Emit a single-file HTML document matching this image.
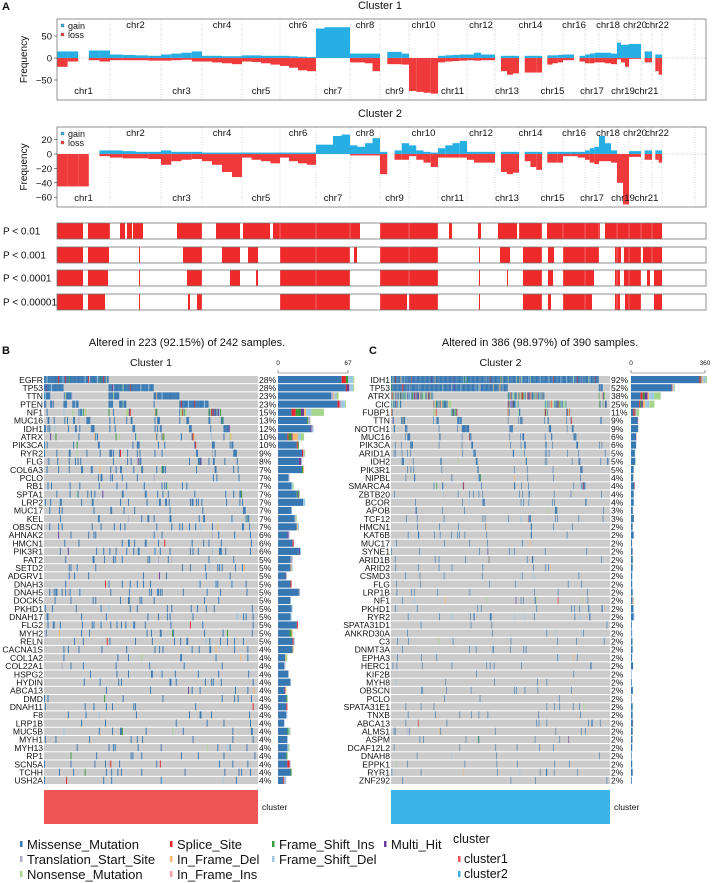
<!DOCTYPE html>
<html><head><meta charset="utf-8">
<style>
html,body{margin:0;padding:0;background:#fff;}
svg{display:block;font-family:"Liberation Sans",Arial,sans-serif;}
</style></head>
<body>
<svg id="fig" width="712" height="883" viewBox="0 0 712 883" xmlns="http://www.w3.org/2000/svg"></svg>
<script>
// ---------------- DATA ----------------
const chrNames = ["chr1","chr2","chr3","chr4","chr5","chr6","chr7","chr8","chr9","chr10","chr11","chr12","chr13","chr14","chr15","chr16","chr17","chr18","chr19","chr20","chr21","chr22"];
const chrBounds = [0,53,104,145,185,223,259,293,323,352,381,410,438,462,485,506,528,542,560,572,584,595,605];
const c1Gain = [[15,15,0,17,17],[8,7,6,5],[8,10,12,15],[5,5,4,4],[6,6,5,5],[5,4,3,2],[67,70,70,70],[10,10,10,10],[0,14,14,10],[0,0,0,0],[5,6,7,8],[8,12,8,8],[0,5,5,5],[0,5,5,5],[0,6,6,7],[8,8,0,5],[8,10,12],[12,12,10],[35,30,30],[32,32],[0,15,15],[0,8,8]];
const c1Loss = [[-20,-8,0,-5,-8],[-5,-5,-5,-6],[-6,-5,-4,-8],[-8,-10,-12,-14],[-8,-9,-12,-15],[-18,-22,-28,-30],[0,0,0,0],[-10,-10,-12,-30,-62],[0,-14,-14,-15],[-75,-77,-79,-81],[-10,-8,-7,-6],[-5,-6,-5,-5],[0,-30,-38,-35],[0,-33,-33,-33],[0,-15,-12,-10],[-5,-5,0,-8],[-12,-12,-10],[-10,-12,-14],[-3,-10,-20],[-2,-2],[0,-10,-10],[0,-30,-38]];
const c2Gain = [[0,0,0,0,5],[5,4,3,3],[5,3,3,3],[2,2,2,2],[2,2,2,2],[2,2,2,2],[13,13,25,27],[12,10,15,22],[3,0,5,15],[12,5,3,2],[8,12,15,18],[3,3,3,3],[0,3,3,3],[0,3,3,3],[0,3,3,3],[3,3,3],[5,8,10],[25,15,5],[0,0],[4,4],[0,5,5],[0,5,5]];
const c2Loss = [[-45,-45,-45,0,-3],[-5,-6,-6,-7],[-15,-10,-8,-7],[-10,-15,-25,-32],[-5,-8,-10,-13],[-5,-10,-13,-15],[0,0,0,0],[-2,-2,-2,-2],[-28,0,-8,-8],[-3,-8,-12,-18],[-5,-5,-5,-5],[-8,-12,-12,-12],[0,-25,-28,-26],[0,-10,-18,-22],[0,-12,-12,-12],[-3,-3,-5],[-8,-12,-14],[-10,-10,-12],[-40,-70],[-4,-4],[0,-8,-8],[0,-8,-12]];
const c1Ticks = [50,0,-50];
const c2Ticks = [20,0,-20,-40,-60];
const pLabels = ["P < 0.01","P < 0.001","P < 0.0001","P < 0.00001"];
const pSig1 = [[0,26],[31,53],[63,68],[70,75],[76,86],[120,145],[159,183],[186,213],[216,223],[223,303],[323,381],[392,395],[421,424],[441,460],[462,485],[490,543],[548,605]];
const pSig2 = [[0,26],[31,52],[82,83],[126,145],[165,183],[191,201],[223,293],[297,300],[323,381],[422,423],[443,453],[466,485],[491,497],[506,542],[558,564],[567,584],[586,605]];
const pSig3 = [[0,26],[31,51],[82,83],[130,145],[173,183],[199,201],[223,293],[323,381],[422,423],[450,451],[466,485],[491,496],[506,537],[558,563],[567,584],[590,593],[597,605]];
const pSig4 = [[0,26],[31,48],[82,83],[131,133],[140,145],[223,293],[323,350],[352,381],[422,423],[466,485],[491,494],[506,535],[558,563],[568,584],[597,605]];
const pSigs = [pSig1,pSig2,pSig3,pSig4];

const genesB = ["EGFR","TP53","TTN","PTEN","NF1","MUC16","IDH1","ATRX","PIK3CA","RYR2","FLG","COL6A3","PCLO","RB1","SPTA1","LRP2","MUC17","KEL","OBSCN","AHNAK2","HMCN1","PIK3R1","FAT2","SETD2","ADGRV1","DNAH3","DNAH5","DOCK5","PKHD1","DNAH17","FLG2","MYH2","RELN","CACNA1S","COL1A2","COL22A1","HSPG2","HYDIN","ABCA13","DMD","DNAH11","F8","LRP1B","MUC5B","MYH1","MYH13","RP1","SCN5A","TCHH","USH2A"];
const pctB = [28,28,23,23,15,13,12,10,10,9,8,7,7,7,7,7,7,7,7,6,6,6,5,5,5,5,5,5,5,5,5,5,5,4,4,4,4,4,4,4,4,4,4,4,4,4,4,4,4,4];
const genesC = ["IDH1","TP53","ATRX","CIC","FUBP1","TTN","NOTCH1","MUC16","PIK3CA","ARID1A","IDH2","PIK3R1","NIPBL","SMARCA4","ZBTB20","BCOR","APOB","TCF12","HMCN1","KAT6B","MUC17","SYNE1","ARID1B","ARID2","CSMD3","FLG","LRP1B","NF1","PKHD1","RYR2","SPATA31D1","ANKRD30A","C3","DNMT3A","EPHA3","HERC1","KIF2B","MYH8","OBSCN","PCLO","SPATA31E1","TNXB","ABCA13","ALMS1","ASPM","DCAF12L2","DNAH8","EPPK1","RYR1","ZNF292"];
const pctC = [92,52,38,25,11,9,9,6,6,5,5,5,4,4,4,4,3,3,2,2,2,2,2,2,2,2,2,2,2,2,2,2,2,2,2,2,2,2,2,2,2,2,2,2,2,2,2,2,2,2];
const nSamplesB = 242, nAlteredB = 223, axisMaxB = 67;
const nSamplesC = 390, nAlteredC = 386, axisMaxC = 360;
const mutTypes = ["Missense_Mutation","Splice_Site","Frame_Shift_Ins","Multi_Hit","Translation_Start_Site","In_Frame_Del","Frame_Shift_Del","Nonsense_Mutation","In_Frame_Ins"];
const mutColors = {"Missense_Mutation":"#3878b2","Splice_Site":"#e3262b","Frame_Shift_Ins":"#3a9a3a","Multi_Hit":"#6b3d9a","Translation_Start_Site":"#b0acc8","In_Frame_Del":"#f5b870","Frame_Shift_Del":"#9ec8e2","Nonsense_Mutation":"#a8d58e","In_Frame_Ins":"#f2a0a8"};
const mixedGenes = ["ATRX","NF1","CIC","FUBP1"];

// ---------------- HELPERS ----------------
const NS = "http://www.w3.org/2000/svg";
const svg = document.getElementById("fig");
function mk(tag, attrs, parent){
  const e = document.createElementNS(NS, tag);
  for (const k in attrs) e.setAttribute(k, attrs[k]);
  (parent||svg).appendChild(e);
  return e;
}
function txt(s, x, y, size, anchor, parent, extra){
  const t = mk("text", Object.assign({x:x, y:y, "font-size":size, "text-anchor":anchor||"start", fill:"#111"}, extra||{}), parent);
  t.textContent = s;
  return t;
}

// ---------------- PANEL A ----------------
const gx0 = 57, gx1 = 662, boxR = 706;
const gTotal = chrBounds[chrBounds.length-1];
function gx(u){ return gx0 + (u / gTotal) * (gx1 - gx0); }

function cnvPanel(name, title, titleY, top, bottom, zeroY, pxPerUnit, gains, losses, ticks){
  const g = mk("g", {});
  
  
  const tt = txt(title, 380, titleY, 11, "middle", g);
  
  
  for (let i = 1; i < chrBounds.length; i++){
    const x = gx(chrBounds[i]);
    mk("line", {x1:x, x2:x, y1:top, y2:bottom, stroke:"#bbb", "stroke-width":0.6, "stroke-dasharray":"1,1.5"}, g);
  }
  mk("line", {x1:695, x2:695, y1:top, y2:bottom, stroke:"#bbb", "stroke-width":0.6, "stroke-dasharray":"1,1.5"}, g);
  const y = v => zeroY - v * pxPerUnit;
  for (let c = 0; c < chrNames.length; c++){
    const a = chrBounds[c], b = chrBounds[c+1];
    const gs = gains[c], ls = losses[c];
    const n = gs.length;
    for (let k = 0; k < n; k++){
      const xa = gx(a + (b-a)*k/n), xb = gx(a + (b-a)*(k+1)/n);
      if (gs[k] > 0){
        const r = mk("rect", {x:xa, y:y(gs[k]), width:xb-xa, height:zeroY - y(gs[k]), fill:"#27aee3"}, g);
        
        
      }
      if (ls[k] < 0){
        const r = mk("rect", {x:xa, y:zeroY, width:xb-xa, height:y(ls[k]) - zeroY, fill:"#ee3a3a"}, g);
        
        
      }
    }
    const lx = gx((a+b)/2);
    const lab = txt(chrNames[c], lx, c % 2 === 0 ? bottom - 6 : top + 9, 9.5, "middle", g);
    
    
  }
  mk("line", {x1:gx0, x2:boxR, y1:zeroY, y2:zeroY, stroke:"#999", "stroke-width":0.6, "stroke-dasharray":"1,1.5"}, g);
  mk("rect", {x:gx0, y:top, width:boxR-gx0, height:bottom-top, fill:"none", stroke:"#777", "stroke-width":0.8}, g);
  for (const t of ticks){
    const ty = y(t);
    mk("line", {x1:gx0-3, x2:gx0, y1:ty, y2:ty, stroke:"#333", "stroke-width":0.6}, g);
    const tl = txt(String(t).replace("-","−"), gx0-5, ty+3.5, 9.5, "end", g);
    
    
  }
  const yl = txt("Frequency", 0, 0, 10, "middle", g, {transform:"translate(27," + ((top+bottom)/2) + ") rotate(-90)"});
  
  
  const lg = mk("g", {}, g);
  
  
  mk("rect", {x:61, y:top+5, width:3, height:3, fill:"#27aee3", stroke:"#777", "stroke-width":0.4}, lg);
  txt("gain", 68, top+10, 9, "start", lg);
  mk("rect", {x:61, y:top+14, width:3, height:3, fill:"#ee3a3a", stroke:"#777", "stroke-width":0.4}, lg);
  txt("loss", 68, top+19, 9, "start", lg);
}
const aLab = txt("A", 2, 10, 11, "start", svg, {"font-weight":"bold"});


cnvPanel("cnv-cluster1", "Cluster 1", 9, 19, 100, 58, 0.44, c1Gain, c1Loss, c1Ticks);
cnvPanel("cnv-cluster2", "Cluster 2", 117, 127, 207, 154, 0.72, c2Gain, c2Loss, c2Ticks);

const stripTops = [223, 247, 270, 294];
for (let i = 0; i < pSigs.length; i++){
  const g = mk("g", {});
  
  
  const t0 = stripTops[i], h = 16;
  for (const iv of pSigs[i]){
    const xa = gx(iv[0]), xb = gx(iv[1]);
    const r = mk("rect", {x:xa, y:t0, width:Math.max(0.8, xb-xa), height:h, fill:"#ee2a2a"}, g);
    
    
  }
  for (let k = 1; k < chrBounds.length-1; k++){
    const x = gx(chrBounds[k]);
    mk("line", {x1:x, x2:x, y1:t0, y2:t0+h, stroke:"#fff", "stroke-width":0.4, opacity:0.7}, g);
  }
  mk("rect", {x:gx0, y:t0, width:boxR-gx0, height:h, fill:"none", stroke:"#777", "stroke-width":0.8}, g);
  const l = txt(pLabels[i], 3, t0+11.5, 10, "start", g);
  
  
}

// ---------------- ONCOPLOTS ----------------
function hash(a, b, c){
  let x = (a * 374761393 + b * 668265263 + c * 2246822519) >>> 0;
  x = ((x ^ (x >>> 13)) * 1274126177) >>> 0;
  x = (x ^ (x >>> 16)) >>> 0;
  return x / 4294967296;
}
function pickType(gene, s, gi, seed){
  const r = hash(s, gi, seed + 7);
  const mixed = mixedGenes.indexOf(gene) >= 0;
  if (mixed){
    if (r < 0.35) return "Missense_Mutation";
    if (r < 0.55) return "Nonsense_Mutation";
    if (r < 0.7) return "Frame_Shift_Del";
    if (r < 0.8) return "Frame_Shift_Ins";
    if (r < 0.87) return "Splice_Site";
    if (r < 0.93) return "Multi_Hit";
    return "In_Frame_Del";
  }
  if (r < 0.9) return "Missense_Mutation";
  if (r < 0.925) return "Frame_Shift_Del";
  if (r < 0.94) return "Nonsense_Mutation";
  if (r < 0.955) return "Splice_Site";
  if (r < 0.97) return "Translation_Start_Site";
  if (r < 0.98) return "In_Frame_Del";
  if (r < 0.99) return "Multi_Hit";
  return "Frame_Shift_Ins";
}
function oncoplot(opt){
  const {name, genes, pct, nS, nAlt, axisMax, x0, x1, barX0, barX1, seed, clusterColor, panelLabel, panelX, altText, altX, clusterTitle} = opt;
  const g = mk("g", {});
  
  
  const rowTop = 376, rowH = 8.18;
  const M = [];
  for (let s = 0; s < nS; s++){
    const row = [];
    for (let gi = 0; gi < genes.length; gi++){
      const p = pct[gi] / 100 * nS / nAlt;
      row.push(hash(s, gi, seed) < p ? pickType(genes[gi], s, gi, seed) : null);
    }
    M.push(row);
  }
  const order = M.map((r, i) => i);
  order.sort((a, b) => {
    for (let gi = 0; gi < genes.length; gi++){
      const A = M[a][gi] ? 1 : 0, B = M[b][gi] ? 1 : 0;
      if (A !== B) return B - A;
    }
    return a - b;
  });
  const cw = (x1 - x0) / nS;
  const al = txt(altText, altX, 346, 11, "middle", g);
  
  
  const pl = txt(panelLabel, panelX, 354, 11, "start", g, {"font-weight":"bold"});
  
  
  const ct = txt(clusterTitle, (x0+x1)/2, 366, 10.5, "middle", g);
  
  
  mk("line", {x1:barX0, x2:barX1, y1:373, y2:373, stroke:"#555", "stroke-width":0.6}, g);
  mk("line", {x1:barX0, x2:barX0, y1:370, y2:373, stroke:"#555", "stroke-width":0.6}, g);
  mk("line", {x1:barX1, x2:barX1, y1:370, y2:373, stroke:"#555", "stroke-width":0.6}, g);
  txt("0", barX0, 365, 6.5, "middle", g);
  txt(String(axisMax), barX1, 365, 6.5, "middle", g);
  for (let gi = 0; gi < genes.length; gi++){
    const y = rowTop + gi * rowH;
    const bg = mk("rect", {x:x0, y:y, width:x1-x0, height:rowH-1, fill:"#cbcbcb"}, g);
    
    
    const counts = {};
    for (let k = 0; k < nS; k++){
      const t = M[order[k]][gi];
      if (!t) continue;
      counts[t] = (counts[t]||0) + 1;
      const r = mk("rect", {x:x0 + k*cw, y:y, width:cw+0.05, height:rowH-1, fill:mutColors[t]}, g);
      
      
    }
    const gl = txt(genes[gi], x0-1, y+6.8, 8.6, "end", g);
    
    
    const pt = txt(pct[gi] + "%", x1+1, y+6.8, 8.6, "start", g);
    
    
    let bx = barX0;
    const scale = (barX1 - barX0) / axisMax;
    for (const t of mutTypes){
      if (!counts[t]) continue;
      const w = counts[t] * scale;
      const r = mk("rect", {x:bx, y:y, width:w, height:rowH-1, fill:mutColors[t]}, g);
      
      
      bx += w;
    }
  }
  const cb = mk("rect", {x:x0, y:790, width:x1-x0, height:34, fill:clusterColor}, g);
  
  
  const cl = txt("cluster", x1+4, 810, 8.6, "start", g);
  
  
}
oncoplot({name:"oncoplot-cluster1", genes:genesB, pct:pctB, nS:nSamplesB, nAlt:nAlteredB, axisMax:axisMaxB, x0:44, x1:258, barX0:278, barX1:348, seed:11, clusterColor:"#f05555", panelLabel:"B", panelX:2, altText:"Altered in 223 (92.15%) of 242 samples.", altX:187, clusterTitle:"Cluster 1"});
oncoplot({name:"oncoplot-cluster2", genes:genesC, pct:pctC, nS:nSamplesC, nAlt:nAlteredC, axisMax:axisMaxC, x0:391, x1:610, barX0:631, barX1:705, seed:29, clusterColor:"#3ab3e8", panelLabel:"C", panelX:369, altText:"Altered in 386 (98.97%) of 390 samples.", altX:540, clusterTitle:"Cluster 2"});

// ---------------- LEGEND ----------------
const lg = mk("g", {});


const legItems = [
  ["Missense_Mutation", 20, 849], ["Translation_Start_Site", 20, 864], ["Nonsense_Mutation", 20, 879],
  ["Splice_Site", 170, 849], ["In_Frame_Del", 170, 864], ["In_Frame_Ins", 170, 879],
  ["Frame_Shift_Ins", 272, 849], ["Frame_Shift_Del", 272, 864], ["Multi_Hit", 384, 849]
];
for (const it of legItems){
  const e = mk("g", {}, lg);
  
  
  mk("rect", {x:it[1], y:it[2]-8, width:2.5, height:6, fill:mutColors[it[0]]}, e);
  txt(it[0], it[1]+7, it[2], 13, "start", e);
}
const ctl = txt("cluster", 453, 843, 12.5, "start", lg);


const c1e = mk("g", {}, lg);


mk("rect", {x:458, y:856, width:2.5, height:6, fill:"#f05555"}, c1e);
txt("cluster1", 464, 863, 12.5, "start", c1e);
const c2e = mk("g", {}, lg);


mk("rect", {x:458, y:871, width:2.5, height:6, fill:"#3ab3e8"}, c2e);
txt("cluster2", 464, 878, 12.5, "start", c2e);
</script>
</body></html>
